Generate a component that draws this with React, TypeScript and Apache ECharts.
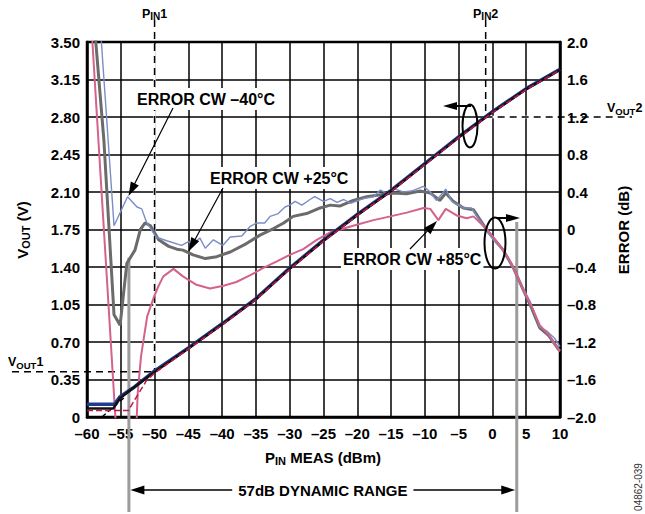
import React, { useEffect, useRef } from "react";
import * as echarts from "echarts";

const W = 645;
const H = 514;
const FONT = '"Liberation Sans", Arial, Helvetica, sans-serif';

// ---- data ----
// VOUT vs PIN (left axis, V)
const voutM40: [number, number][] = [
  [-60, 0.12], [-55.9, 0.12], [-55.1, 0.19], [-53.2, 0.27], [-50, 0.43], [-45, 0.645],
  [-40, 0.87], [-35, 1.105], [-30, 1.39], [-25, 1.65], [-20, 1.89], [-15, 2.115],
  [-10, 2.365], [-5, 2.615], [0, 2.85], [5, 3.065], [10, 3.245],
];
const vout25: [number, number][] = [
  [-60, 0.08], [-56.1, 0.08], [-55.1, 0.175], [-53.6, 0.25], [-50, 0.42], [-45, 0.64],
  [-40, 0.865], [-35, 1.1], [-30, 1.385], [-25, 1.645], [-20, 1.885], [-15, 2.11],
  [-10, 2.36], [-5, 2.61], [0, 2.845], [5, 3.06], [10, 3.24],
];
const vout85: [number, number][] = [
  [-60, 0.06], [-53.9, 0.06], [-51.2, 0.34], [-50, 0.41], [-45, 0.635],
  [-40, 0.86], [-35, 1.095], [-30, 1.38], [-25, 1.64], [-20, 1.88], [-15, 2.105],
  [-10, 2.355], [-5, 2.605], [0, 2.84], [5, 3.055], [10, 3.24],
];
const voutIdeal: [number, number][] = [[-57.8, 0], [-54.5, 0.18]];

// Error vs PIN (right axis, dB)
const errM40: [number, number][] = [
  [-58.3, 2.45], [-56.0, 0.04], [-54.0, 0.35], [-52.6, 0.24], [-51.9, 0.22], [-51.2, 0.08],
  [-49.8, -0.08], [-48.2, -0.12], [-46.0, -0.17], [-45.0, -0.13], [-44.3, -0.16], [-43.3, -0.09],
  [-42.5, -0.2], [-41.3, -0.11], [-39.9, -0.17], [-38.8, -0.08], [-37.1, -0.07], [-35.9, 0.03],
  [-34.9, 0.07], [-33.7, 0.07], [-32.9, 0.14], [-31.7, 0.17], [-30.7, 0.24], [-30.0, 0.26],
  [-29.2, 0.3], [-28.2, 0.26], [-27.0, 0.32], [-26.3, 0.35], [-25.0, 0.3], [-24.0, 0.33],
  [-23.0, 0.29], [-22.0, 0.32], [-21.0, 0.28], [-19.1, 0.33], [-17.6, 0.35], [-16.6, 0.42],
  [-15.7, 0.39], [-14.4, 0.43], [-13.2, 0.4], [-12.0, 0.41], [-10.2, 0.46], [-9.2, 0.4],
  [-8.3, 0.31], [-6.9, 0.43], [-6.0, 0.3], [-4.3, 0.23], [-3.1, 0.23], [-2.3, 0.14],
  [-1.35, 0.05], [-0.4, -0.06], [0.6, -0.15], [1.6, -0.22], [3.1, -0.42], [4.1, -0.57],
  [5.6, -0.77], [7.0, -1.04], [8.0, -1.08], [9.2, -1.16], [10, -1.25],
];
const err25: [number, number][] = [
  [-59.1, 2.35], [-57.5, 0.95], [-56.0, -0.91], [-55.1, -1.02], [-54.1, -0.36], [-52.9, -0.22],
  [-52.1, 0.0], [-51.4, 0.07], [-50.6, 0.04], [-49.4, -0.11], [-47.9, -0.18], [-46.7, -0.21],
  [-45.8, -0.22], [-44.3, -0.27], [-42.5, -0.31], [-40.8, -0.29], [-38.8, -0.24], [-36.4, -0.15],
  [-34.4, -0.06], [-32.4, 0.01], [-30.9, 0.07], [-29.5, 0.14], [-27.5, 0.17], [-25.5, 0.23],
  [-24.0, 0.26], [-22.6, 0.25], [-20.6, 0.31], [-18.6, 0.35], [-16.6, 0.37], [-14.7, 0.39],
  [-12.7, 0.38], [-10.7, 0.41], [-9.2, 0.39], [-7.8, 0.31], [-6.9, 0.39], [-5.8, 0.3],
  [-4.3, 0.23], [-2.8, 0.21], [-1.8, 0.1], [-0.8, -0.01], [1.6, -0.22], [3.1, -0.41],
  [4.6, -0.65], [5.8, -0.84], [7.0, -1.05], [8.3, -1.13], [9.8, -1.28], [10, -1.29],
];
const err85: [number, number][] = [
  [-59.5, 2.35], [-55.8, -2.0], [-55.0, -2.9], [-53.2, -2.9], [-52.8, -2.3], [-52.5, -1.75],
  [-52.0, -1.35], [-51.1, -0.93], [-50.1, -0.72], [-49.4, -0.6], [-48.7, -0.5], [-47.2, -0.42],
  [-45.8, -0.5], [-43.8, -0.59], [-41.8, -0.63], [-39.8, -0.6], [-37.9, -0.56], [-35.9, -0.49],
  [-33.9, -0.41], [-31.9, -0.34], [-30.0, -0.27], [-28.0, -0.21], [-26.0, -0.11], [-24.0, -0.03],
  [-22.0, 0.01], [-20.1, 0.05], [-17.6, 0.1], [-15.1, 0.14], [-12.7, 0.18], [-10.2, 0.23],
  [-9.2, 0.22], [-8.0, 0.1], [-6.9, 0.22], [-5.3, 0.15], [-3.8, 0.12], [-2.8, 0.14],
  [-0.8, 0.0], [1.6, -0.22], [3.1, -0.4], [4.6, -0.65], [5.8, -0.82], [7.0, -1.02],
  [8.3, -1.12], [9.5, -1.25], [10, -1.3],
];

// Reference markers
const PIN1 = -50;
const VOUT1 = 0.423;
const PIN2 = -1;
const VOUT2 = 2.8;
const rangeEdges = [-53.8, 3.6]; // dBm
const rangeTopErr = [-0.3, 0.08]; // dB, top of the grey range lines

// ---- helpers ----
let mctx: CanvasRenderingContext2D | null = null;
function measure(t: string, size: number) {
  if (!mctx) mctx = document.createElement("canvas").getContext("2d");
  mctx!.font = `bold ${size}px ${FONT}`;
  return mctx!.measureText(t).width;
}
type Part = { t: string; size: number; dy?: number };
function richGroup(parts: Part[], x: number, y: number, align: "left" | "center", rotation = 0) {
  const widths = parts.map((p) => measure(p.t, p.size));
  const total = widths.reduce((a, b) => a + b, 0);
  let cx = align === "center" ? -total / 2 : 0;
  const children = parts.map((p, i) => {
    const c = {
      type: "text",
      x: cx,
      y: p.dy || 0,
      style: {
        text: p.t,
        fontSize: p.size,
        fontWeight: "bold",
        fontFamily: FONT,
        fill: "#000",
        align: "left",
        verticalAlign: "middle",
      },
    };
    cx += widths[i];
    return c;
  });
  return { type: "group", x, y, rotation, children, z: 30 };
}
function arrow(x1: number, y1: number, x2: number, y2: number, len: number, hw: number, lw: number) {
  const dx = x2 - x1;
  const dy = y2 - y1;
  const d = Math.hypot(dx, dy);
  const ux = dx / d;
  const uy = dy / d;
  const bx = x2 - ux * len;
  const by = y2 - uy * len;
  return [
    { type: "line", z: 25, shape: { x1, y1, x2: bx + ux * 2, y2: by + uy * 2 }, style: { stroke: "#000", lineWidth: lw } },
    {
      type: "polygon",
      z: 25,
      shape: { points: [[x2, y2], [bx - uy * hw, by + ux * hw], [bx + uy * hw, by - ux * hw]] },
      style: { fill: "#000" },
    },
  ];
}
function boxText(text: string, x: number, y: number, size = 16) {
  return {
    type: "text",
    z: 22,
    x,
    y,
    style: {
      text,
      fontSize: size,
      fontWeight: "bold",
      fontFamily: FONT,
      fill: "#000",
      align: "left",
      verticalAlign: "middle",
      backgroundColor: "#fff",
      padding: [3, 2, 3, 2],
    },
  };
}

const minus = (v: number, d: number) =>
  Math.abs(v) < 1e-9 ? "0" : (v < 0 ? "\u2013" : "") + Math.abs(v).toFixed(d);

export default function App() {
  const ref = useRef<HTMLDivElement>(null);
  useEffect(() => {
    const chart = echarts.init(ref.current!, null, { renderer: "svg", width: W, height: H });
    const axisLabel = { color: "#000", fontFamily: FONT, fontWeight: "bold", fontSize: 15 };
    const split = { show: true, lineStyle: { color: "#000", width: 1.5 } };
    const axisLine = { show: true, onZero: false, lineStyle: { color: "#000", width: 2.5 } };
    const line = (data: [number, number][], yAxisIndex: number, color: string, width: number, z: number, type: any = "solid") => ({
      type: "line",
      data,
      yAxisIndex,
      symbol: "none",
      showSymbol: false,
      z,
      lineStyle: { color, width, type },
    });
    chart.setOption({
      animation: false,
      grid: { left: 87, right: 85, top: 42, bottom: 97, show: true, borderColor: "#000", borderWidth: 2.5, backgroundColor: "transparent" },
      xAxis: {
        type: "value", min: -60, max: 10, interval: 5,
        axisLine,
        axisTick: { show: false },
        splitLine: split,
        axisLabel: { ...axisLabel, margin: 9, formatter: (v: number) => minus(v, 0) },
      },
      yAxis: [
        {
          type: "value", min: 0, max: 3.5, interval: 0.35, position: "left",
          axisLine,
          axisTick: { show: false },
          splitLine: split,
          axisLabel: { ...axisLabel, margin: 7, formatter: (v: number) => (Math.abs(v) < 1e-9 ? "0" : v.toFixed(2)) },
        },
        {
          type: "value", min: -2, max: 2, interval: 0.4, position: "right",
          axisLine,
          axisTick: { show: false },
          splitLine: { show: false },
          axisLabel: { ...axisLabel, margin: 7, formatter: (v: number) => minus(v, 1) },
        },
      ],
      series: [
        line(err25, 1, "#6b6b6b", 3, 3),
        line(errM40, 1, "#7b8dc6", 1.4, 4),
        line(err85, 1, "#d4628a", 2, 5),
        line(voutIdeal, 0, "#000", 1.5, 6, [5, 3]),
        line(voutM40, 0, "#1f3b8f", 3.5, 7),
        line(vout25, 0, "#111", 2.5, 8),
        line(vout85, 0, "#c4164a", 1.5, 9, [6, 3]),
      ],
    });

    const pL = (x: number, y: number) => chart.convertToPixel({ xAxisIndex: 0, yAxisIndex: 0 }, [x, y]) as number[];
    const pR = (x: number, y: number) => chart.convertToPixel({ xAxisIndex: 0, yAxisIndex: 1 }, [x, y]) as number[];
    const [p1x, v1y] = pL(PIN1, VOUT1);
    const [p2x, v2y] = pL(PIN2, VOUT2);
    const [r0x, r0y] = pR(rangeEdges[0], rangeTopErr[0]);
    const [r1x, r1y] = pR(rangeEdges[1], rangeTopErr[1]);
    const dash = { stroke: "#000", lineWidth: 1.5, lineDash: [7, 5] };
    const white = { stroke: "#fff", lineWidth: 2.5 };
    const gl = (x1: number, y1: number, x2: number, y2: number, style: any, z = 12) => ({ type: "line", z, shape: { x1, y1, x2, y2 }, style });

    const graphic: any[] = [
      // grey dynamic range lines
      gl(r0x, r0y, r0x, 512, { stroke: "#9c9c9c", lineWidth: 3 }, 1),
      gl(r1x, r1y, r1x, 512, { stroke: "#9c9c9c", lineWidth: 3 }, 1),
      // PIN1 / VOUT1
      gl(p1x, 44, p1x, v1y, white, 1),
      gl(p1x, 20, p1x, v1y, dash, 1),
      gl(12, v1y, p1x, v1y, dash, 1),
      // PIN2 / VOUT2
      gl(p2x, 20, p2x, v2y, dash, 1),
      gl(p2x, v2y, 558, v2y, white, 1),
      gl(p2x, v2y, 632, v2y, dash, 1),
      // labels for markers
      richGroup([{ t: "P", size: 12.5 }, { t: "IN", size: 10, dy: 2.5 }, { t: "1", size: 12.5 }], p1x, 14, "center"),
      richGroup([{ t: "P", size: 12.5 }, { t: "IN", size: 10, dy: 2.5 }, { t: "2", size: 12.5 }], p2x, 14, "center"),
      richGroup([{ t: "V", size: 12.5 }, { t: "OUT", size: 9.5, dy: 3 }, { t: "1", size: 12.5 }], 8, 362, "left"),
      richGroup([{ t: "V", size: 12.5 }, { t: "OUT", size: 9.5, dy: 3 }, { t: "2", size: 12.5 }], 607, 108, "left"),
      // axis titles
      richGroup([{ t: "V", size: 15 }, { t: "OUT", size: 11, dy: 3.5 }, { t: " (V)", size: 15 }], 22, 230, "center", Math.PI / 2),
      richGroup([{ t: "ERROR (dB)", size: 15 }], 623, 230, "center", Math.PI / 2),
      richGroup([{ t: "P", size: 15 }, { t: "IN", size: 11, dy: 3.5 }, { t: " MEAS (dBm)", size: 15 }], 323, 457, "center"),
      // annotation texts
      boxText("ERROR CW \u201340\u00b0C", 135, 99),
      boxText("ERROR CW +25\u00b0C", 208, 178),
      boxText("ERROR CW +85\u00b0C", 341, 259),
      ...arrow(173, 108, 128.5, 196, 14, 4.5, 1.2),
      ...arrow(223, 188, 188.5, 251.5, 14, 4.5, 1.2),
      ...arrow(410, 249, 437, 221, 14, 4.5, 1.2),
      // ellipses with axis arrows
      { type: "ellipse", z: 25, shape: { cx: 470, cy: 126, rx: 7.5, ry: 21.5 }, style: { fill: "none", stroke: "#000", lineWidth: 2 } },
      ...arrow(471, 106, 443, 106, 14, 4, 2),
      { type: "ellipse", z: 25, shape: { cx: 495, cy: 243, rx: 10.5, ry: 25.5 }, style: { fill: "none", stroke: "#000", lineWidth: 2 } },
      ...arrow(497, 218, 520, 218, 14, 4, 2),
      // dynamic range arrow
      ...arrow((r0x + r1x) / 2, 490, r0x + 1.5, 490, 14, 4.5, 1.5),
      ...arrow((r0x + r1x) / 2, 490, r1x - 1.5, 490, 14, 4.5, 1.5),
      {
        type: "text", z: 30, x: (r0x + r1x) / 2, y: 490,
        style: {
          text: "57dB DYNAMIC RANGE", fontSize: 15, fontWeight: "bold", fontFamily: FONT, fill: "#000",
          align: "center", verticalAlign: "middle", backgroundColor: "#fff", padding: [2, 6, 2, 6],
        },
      },
      {
        type: "text", z: 30, x: 638, y: 487, rotation: Math.PI / 2,
        style: { text: "04862-039", fontSize: 10, fontFamily: FONT, fill: "#333", align: "center", verticalAlign: "middle" },
      },
    ];
    chart.setOption({ graphic });
    return () => chart.dispose();
  }, []);
  return <div ref={ref} style={{ position: "fixed", left: 0, top: 0, width: W, height: H, background: "#fff" }} />;
}
